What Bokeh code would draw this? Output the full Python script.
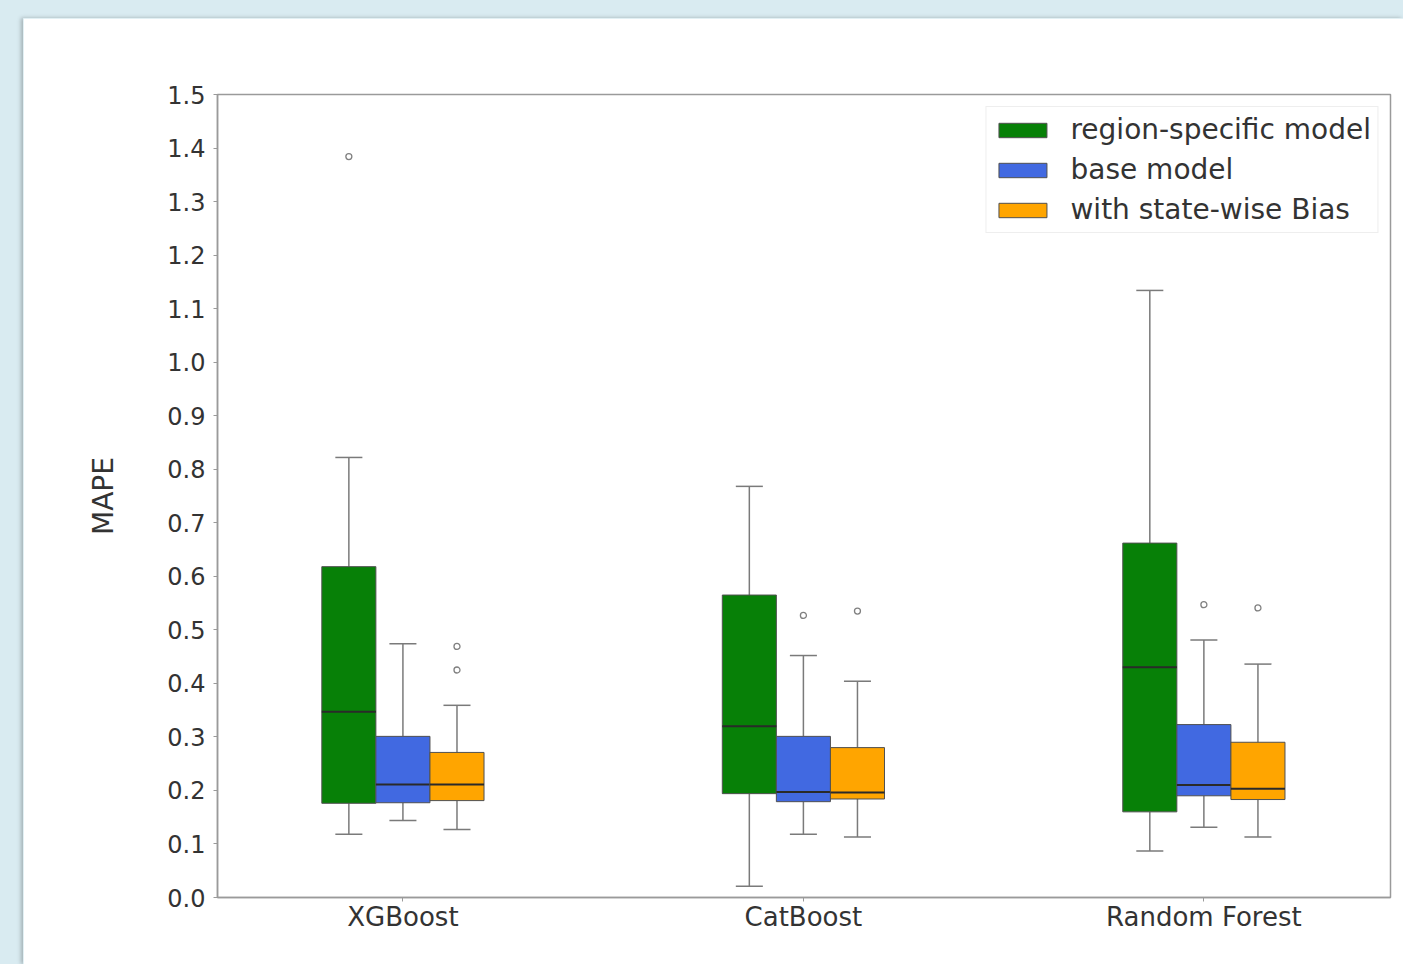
from bokeh.plotting import figure
from bokeh.models import Range1d, FixedTicker, NumeralTickFormatter
from bokeh.embed import file_html
from bokeh.resources import INLINE

categories = ["XGBoost", "CatBoost", "Random Forest"]
series = ["region-specific model", "base model", "with state-wise Bias"]
colors = ["#078007", "#4169e1", "#ffa500"]

region_low = [0.118, 0.021, 0.087]
region_q1 = [0.176, 0.194, 0.160]
region_med = [0.347, 0.320, 0.430]
region_q3 = [0.618, 0.565, 0.662]
region_high = [0.822, 0.768, 1.134]
region_out = [[1.384], [], []]

base_low = [0.144, 0.118, 0.131]
base_q1 = [0.177, 0.179, 0.190]
base_med = [0.211, 0.197, 0.210]
base_q3 = [0.301, 0.301, 0.323]
base_high = [0.474, 0.452, 0.481]
base_out = [[], [0.527], [0.547]]

bias_low = [0.127, 0.113, 0.113]
bias_q1 = [0.181, 0.184, 0.183]
bias_med = [0.211, 0.196, 0.203]
bias_q3 = [0.271, 0.280, 0.290]
bias_high = [0.359, 0.404, 0.436]
bias_out = [[0.469, 0.425], [0.535], [0.541]]

y_ticks = [0.0, 0.1, 0.2, 0.3, 0.4, 0.5, 0.6, 0.7, 0.8, 0.9, 1.0, 1.1, 1.2, 1.3, 1.4, 1.5]

stats = [
    (region_low, region_q1, region_med, region_q3, region_high, region_out),
    (base_low, base_q1, base_med, base_q3, base_high, base_out),
    (bias_low, bias_q1, bias_med, bias_q3, bias_high, bias_out),
]

FONT = "DejaVu Sans"
TXT = "#333333"
EDGE = "#505050"
WHISK = "#7a7a7a"

p = figure(width=1380, height=946, output_backend="svg", toolbar_location=None,
           x_range=Range1d(-0.463, 2.466), y_range=Range1d(0, 1.5),
           min_border_left=194, min_border_right=13, min_border_top=76,
           min_border_bottom=67, margin=(18, 0, 0, 23))
p.styles = {"box-shadow": "-2px 0px 4px rgba(0,0,0,0.25)"}
p.background_fill_color = "white"
p.border_fill_color = "white"
p.outline_line_color = "#9a9a9a"
p.outline_line_width = 1.5
p.xgrid.visible = False
p.ygrid.visible = False

bw = 0.135
offsets = [-bw, 0.0, bw]
xc = [0, 1, 2]

for k, (lo, q1, med, q3, hi, out) in enumerate(stats):
    xs = [x + offsets[k] for x in xc]
    p.segment(x0=xs, y0=q3, x1=xs, y1=hi, line_color=WHISK, line_width=1.5)
    p.segment(x0=xs, y0=lo, x1=xs, y1=q1, line_color=WHISK, line_width=1.5)
    p.segment(x0=[x - bw / 4 for x in xs], y0=hi, x1=[x + bw / 4 for x in xs], y1=hi,
              line_color=WHISK, line_width=1.5)
    p.segment(x0=[x - bw / 4 for x in xs], y0=lo, x1=[x + bw / 4 for x in xs], y1=lo,
              line_color=WHISK, line_width=1.5)
    p.quad(left=[x - bw / 2 for x in xs], right=[x + bw / 2 for x in xs], bottom=q1, top=q3,
           fill_color=colors[k], line_color=EDGE, line_width=1, legend_label=series[k])
    p.segment(x0=[x - bw / 2 for x in xs], y0=med, x1=[x + bw / 2 for x in xs], y1=med,
              line_color="#2a2a2a", line_width=2)
    ox, oy = [], []
    for i, vals in enumerate(out):
        for v in vals:
            ox.append(xs[i])
            oy.append(v)
    if ox:
        p.scatter(x=ox, y=oy, marker="circle", size=6, fill_color=None,
                  line_color="#808080", line_width=1.3)

for ax in (p.xaxis[0], p.yaxis[0]):
    ax.axis_line_color = "#9a9a9a"
    ax.axis_line_width = 1.5
    ax.major_tick_line_color = "#9a9a9a"
    ax.major_tick_out = 4
    ax.major_tick_in = 0
    ax.minor_tick_line_color = None
    ax.major_label_text_font = FONT
    ax.major_label_text_color = TXT

p.yaxis.ticker = FixedTicker(ticks=y_ticks)
p.yaxis.formatter = NumeralTickFormatter(format="0.0")
p.yaxis.major_label_text_font_size = "24px"
p.yaxis.major_label_standoff = 8
p.yaxis.axis_label = "MAPE"
p.yaxis.axis_label_text_font = FONT
p.yaxis.axis_label_text_font_size = "28px"
p.yaxis.axis_label_text_font_style = "normal"
p.yaxis.axis_label_text_color = TXT
p.yaxis.axis_label_standoff = 44

p.xaxis.ticker = FixedTicker(ticks=xc)
p.xaxis.major_label_overrides = {i: c for i, c in enumerate(categories)}
p.xaxis.major_label_text_font_size = "26px"
p.xaxis.major_label_standoff = 0

lg = p.legend[0]
lg.location = "top_right"
lg.margin = 12
lg.padding = 6
lg.spacing = 7
lg.glyph_width = 60
lg.glyph_height = 18
lg.label_height = 30
lg.label_standoff = 18
lg.label_text_font = FONT
lg.label_text_font_size = "28px"
lg.label_text_color = TXT
lg.border_line_color = "#dddddd"
lg.border_line_width = 1
lg.background_fill_alpha = 0.85

html = file_html(p, INLINE)
style = "<style>html, body { background-color: #d9ebf1 !important; }</style>"
if "</head>" in html:
    html = html.replace("</head>", style + "</head>", 1)
else:
    html = style + html
open("out.html", "w").write(html)
